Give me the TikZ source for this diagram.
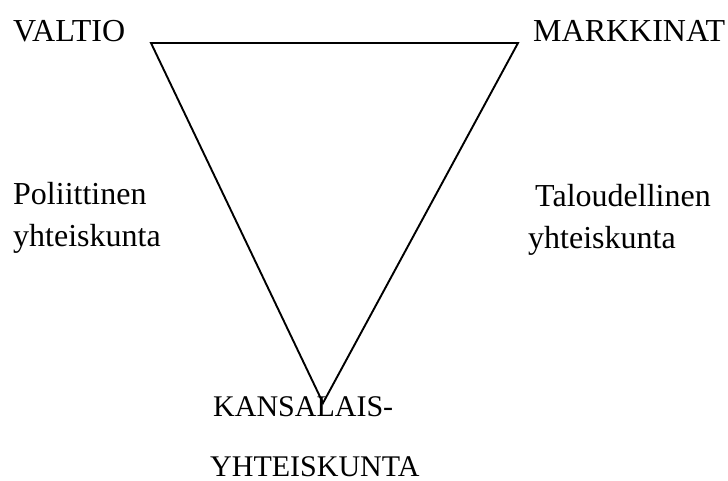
\documentclass[tikz,border=0pt]{standalone}
\usepackage{fontspec}
\setmainfont{Liberation Serif}

\begin{document}
\begin{tikzpicture}[x=1pt,y=-1pt]
\tikzset{
  lbl/.style={inner sep=0pt,anchor=base west,font=\fontsize{32}{38}\selectfont},
  side/.style={line width=1.9pt,line join=miter}
}
\useasboundingbox (0,0) rectangle (728,481);

% Kolmion kärjet
\coordinate (valtio) at (151,43);
\coordinate (markkinat) at (518,43);
\coordinate (kansalais) at (323,403);
\draw[side] (valtio) -- (markkinat) -- (kansalais) -- cycle;

% Kärkien tekstit
\node[lbl] (tValtio) at (13,42) {VALTIO};
\node[lbl] (tMarkkinat) at (533,42) {MARKKINAT};
\node[lbl,font=\fontsize{30}{36}\selectfont] (tKansa1) at (213,416) {KANSALAIS-};
\node[lbl,font=\fontsize{30}{36}\selectfont,text depth=0pt] (tKansa2) at (210,476) {YHTEISKUNTA};

% Sivujen tekstit
\node[lbl] (tPol1) at (13,205) {Poliittinen};
\node[lbl] (tPol2) at (13,246) {yhteiskunta};
\node[lbl] (tTal1) at (535,207) {Taloudellinen};
\node[lbl] (tTal2) at (528,248) {yhteiskunta};
\end{tikzpicture}
\end{document}
